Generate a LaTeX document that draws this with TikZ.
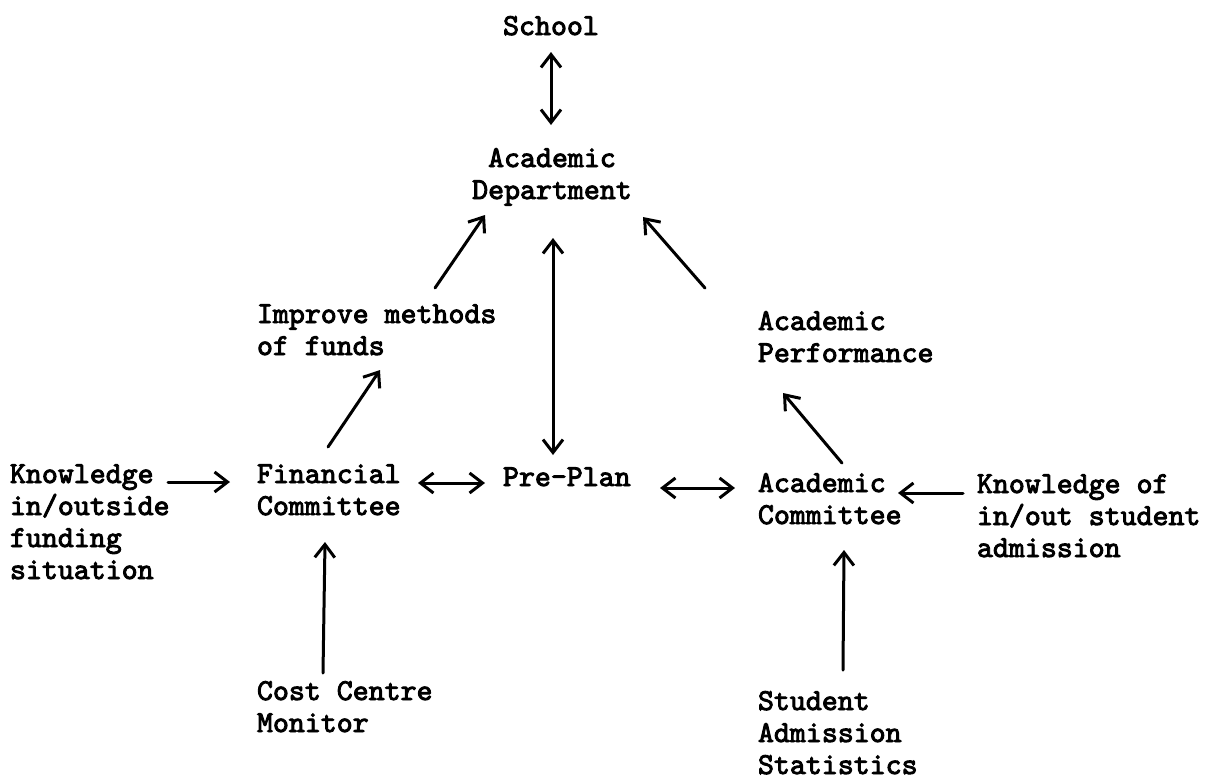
\documentclass[tikz,border=0pt]{standalone}
\usepackage{fontspec}
\newfontfamily\tw{lmmono10-regular}[Extension=.otf,FakeBold=3]
\usetikzlibrary{arrows.meta,calc}

% every label is placed by the baseline of its last line
\tikzset{
  lbl/.style={inner sep=0pt, outer sep=0pt, align=left, anchor=base west,
    font=\fontsize{15.2}{16}\tw},
  clbl/.style={lbl, align=center, anchor=base},
  tip/.tip={Straight Barb[length=6.5pt,width=10pt,line width=1.5pt]},
  arr/.style={line width=1.5pt, line cap=round, -tip},
  dbl/.style={line width=1.5pt, line cap=round, tip-tip}
}

\begin{document}
\begin{tikzpicture}[x=0.5pt,y=-0.5pt]
\useasboundingbox (0,0) rectangle (1217,783);

% labels
\node[clbl] (school)  at (551,35)  {School};
\node[clbl] (dept)    at (552,199) {Academic\\Department};
\node[lbl]  (improve) at (257,355) {Improve methods\\of funds};
\node[lbl]  (perf)    at (758,362) {Academic\\Performance};
\node[lbl]  (know1)   at (10,579)  {Knowledge\\in/outside\\funding\\situation};
\node[lbl]  (fin)     at (257,515) {Financial\\Committee};
\node[lbl]  (pre)     at (503,486) {Pre-Plan};
\node[lbl]  (acad)    at (758,524) {Academic\\Committee};
\node[lbl]  (know2)   at (977,557) {Knowledge of\\in/out student\\admission};
\node[lbl]  (cost)    at (257,732) {Cost Centre\\Monitor};
\node[lbl]  (stud)    at (758,774) {Student\\Admission\\Statistics};

% connectors
\draw[dbl] ($(school.base)+(0,17)$) -- ($(dept.base)+(-1,-74)$);
\draw[arr] ($(improve.base west)+(178,-67)$) -- ($(dept.base)+(-67,16)$);
\draw[dbl] ($(dept.base)+(1,39)$) -- ($(pre.base west)+(50,-31)$);
\draw[arr] ($(perf.base west)+(-53,-74)$) -- ($(dept.base)+(91,18)$);
\draw[arr] ($(fin.base west)+(71,-68)$) -- ($(improve.base west)+(123,15)$);
\draw[arr] ($(acad.base west)+(84,-61)$) -- ($(perf.base west)+(25,31)$);
\draw[arr] ($(know1.base west)+(158,-97)$) -- ($(fin.base west)+(-27,-33)$);
\draw[dbl] ($(fin.base west)+(161,-32)$) -- ($(pre.base west)+(-18,-3)$);
\draw[dbl] ($(pre.base west)+(157,2)$) -- ($(acad.base west)+(-23,-36)$);
\draw[arr] ($(know2.base west)+(-14,-64)$) -- ($(acad.base west)+(140,-31)$);
\draw[arr] ($(cost.base west)+(66,-59)$) -- ($(fin.base west)+(68,27)$);
\draw[arr] ($(stud.base west)+(85,-104)$) -- ($(acad.base west)+(86,26)$);
\end{tikzpicture}
\end{document}
